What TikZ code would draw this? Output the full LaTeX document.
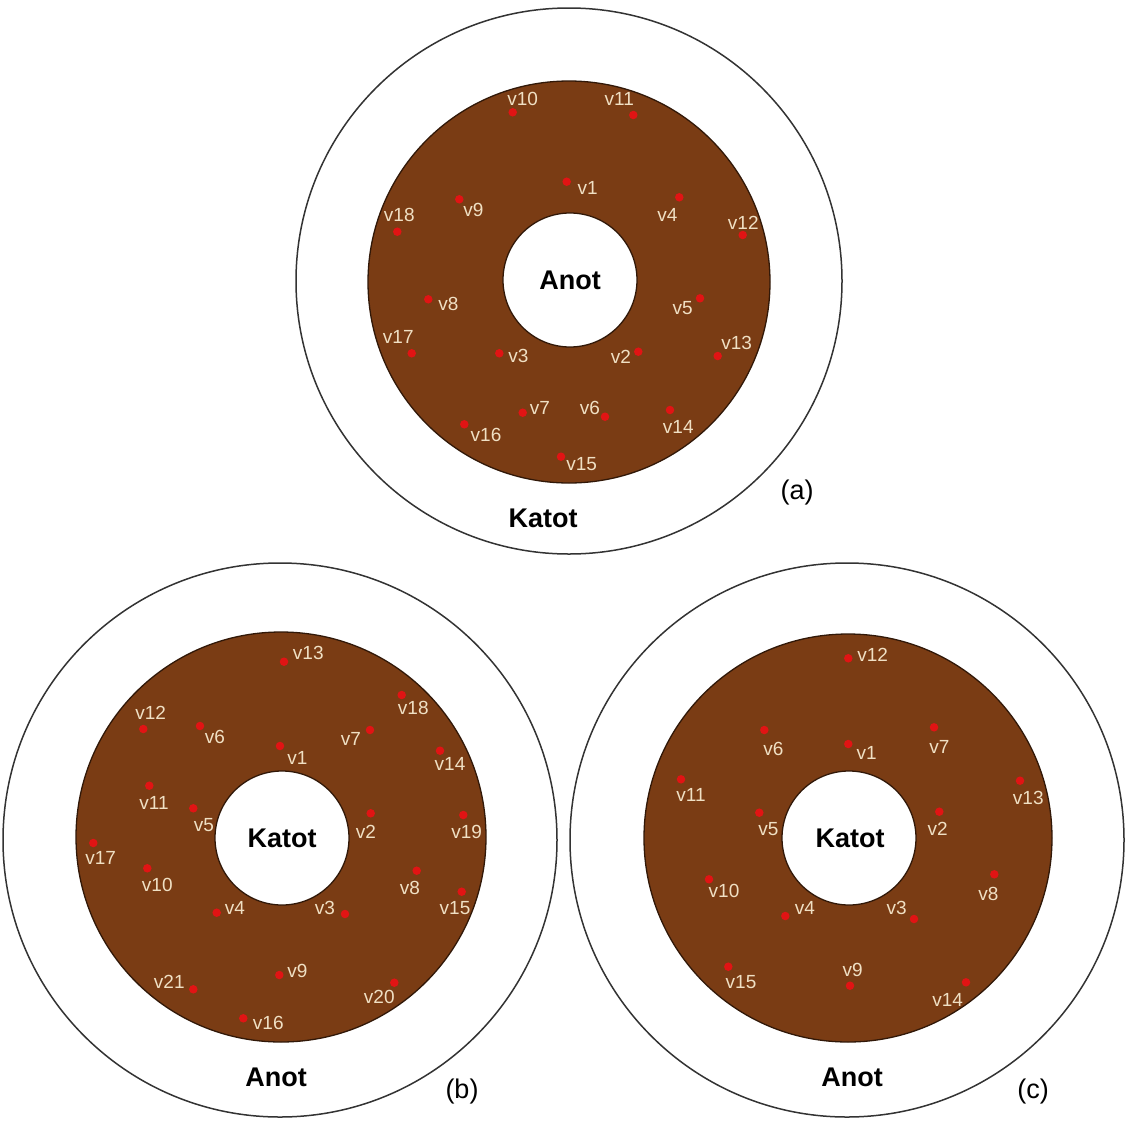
\documentclass[tikz,border=0pt]{standalone}
\usepackage{fontspec}
\setmainfont{Liberation Sans}
\definecolor{soil}{RGB}{122,60,20}
\definecolor{lblc}{RGB}{240,224,196}
\definecolor{dotred}{RGB}{225,20,20}
\begin{document}
\begin{tikzpicture}[x=1pt,y=-1pt,
  ring/.style={circle, draw=black!80, line width=1.5pt, fill=white, inner sep=0pt},
  soilring/.style={circle, draw=black!60!soil, line width=1.3pt, fill=soil, inner sep=0pt},
  hole/.style={circle, draw=black!60!soil, line width=1.3pt, fill=white, inner sep=0pt},
  vdot/.style={circle, fill=dotred, inner sep=0pt, minimum size=8.5pt},
  vlab/.style={text=lblc, font=\fontsize{19}{19}\selectfont, inner sep=0pt},
  elec/.style={font=\bfseries\fontsize{27}{27}\selectfont, inner sep=0pt},
  tag/.style={font=\fontsize{27}{27}\selectfont, inner sep=0pt}]
\useasboundingbox (0,0) rectangle (1130,1122);

% ---------- panel (a) ----------
\node[ring, minimum size=546pt] (aOuter) at (569,281) {};
\node[soilring, minimum size=402pt] (aSoil) at (569,282) {};
\node[hole, minimum size=134pt] (aHole) at (570,280) {};
\foreach \n/\x/\y/\lx/\ly in {
  v10/512.7/112.3/522.7/99, v11/633.3/115/619.3/99, v1/566.7/181.7/587.7/188.3,
  v9/459.3/199.3/473.3/210, v18/397.3/231.7/399.3/215, v4/679.3/197.3/667.3/215,
  v12/742.7/235/743.3/222.7, v8/428.3/299.3/448.3/304, v5/700/298.3/682.7/308.3,
  v17/411.7/353.3/398.3/337.3, v3/499.3/353.3/518.3/356, v2/638.3/351.7/621/356.7,
  v13/717.7/356/736.7/342.7, v7/522.7/412.7/540/408.3, v6/605/416.7/590/408.3,
  v14/670/410/678.3/426.7, v16/464.3/424.3/486/435, v15/561/456.7/581.7/464}{
  \node[vdot] (a-\n) at (\x,\y) {};
  \node[vlab] (a-\n-l) at (\lx,\ly) {\n};
}
\node[elec] (aAnot) at (570,280) {Anot};
\node[elec] (aKatot) at (543,518) {Katot};
\node[tag] (aTag) at (797,493) {(a)};

% ---------- panel (b) ----------
\node[ring, minimum size=554pt] (bOuter) at (280,840) {};
\node[soilring, minimum size=410pt] (bSoil) at (281,837) {};
\node[hole, minimum size=134pt] (bHole) at (282,838) {};
\foreach \n/\x/\y/\lx/\ly in {
  v13/284/661.7/308.3/653.3, v18/401.7/695/413.3/708.3, v12/143.3/729/150.7/713.3,
  v6/200/726/215/736.7, v7/370/730/351/739.3, v1/280/746/297.3/757.7,
  v14/440/750.7/450/764, v11/149.3/785.7/154/802.7, v5/193.3/808.3/204/825,
  v2/370.7/813.3/366/831.7, v19/463.3/815/466.7/832.3, v17/93.3/843/100.7/858.3,
  v10/147.3/868.3/157.3/885, v8/416.7/870.7/410/888.3, v15/461.7/891.7/455/908.3,
  v4/216.7/912.7/235/908.3, v3/345/914/325/908.3, v9/279.3/975/297.3/971,
  v21/193.3/989.3/169.3/981.7, v20/394.3/982.7/379.3/996.7, v16/243.3/1018.3/268.3/1022.7}{
  \node[vdot] (b-\n) at (\x,\y) {};
  \node[vlab] (b-\n-l) at (\lx,\ly) {\n};
}
\node[elec] (bKatot) at (282,838) {Katot};
\node[elec] (bAnot) at (276,1077) {Anot};
\node[tag] (bTag) at (462,1091) {(b)};

% ---------- panel (c) ----------
\node[ring, minimum size=554pt] (cOuter) at (847,840) {};
\node[soilring, minimum size=408pt] (cSoil) at (848,838) {};
\node[hole, minimum size=134pt] (cHole) at (849,838) {};
\foreach \n/\x/\y/\lx/\ly in {
  v12/848.3/658.3/872.7/655, v6/764.3/730/773.3/749.3, v1/848.3/744/866.7/752.7,
  v7/934/727.3/939.3/747.3, v11/681/779.3/691/795, v13/1020/780.7/1028.3/798.3,
  v5/759.3/812.7/768.3/829.3, v2/939.3/811.7/937.7/829.3, v10/709/879.3/724/890.7,
  v8/994.3/874.3/988.3/894.3, v4/785.3/916/805/908.3, v3/914/919/896.7/908.3,
  v15/728.3/966.7/741/981.7, v9/850/985.7/852.7/970, v14/966/982.3/947.7/1000}{
  \node[vdot] (c-\n) at (\x,\y) {};
  \node[vlab] (c-\n-l) at (\lx,\ly) {\n};
}
\node[elec] (cKatot) at (850,838) {Katot};
\node[elec] (cAnot) at (852,1077) {Anot};
\node[tag] (cTag) at (1033,1091) {(c)};
\end{tikzpicture}
\end{document}
